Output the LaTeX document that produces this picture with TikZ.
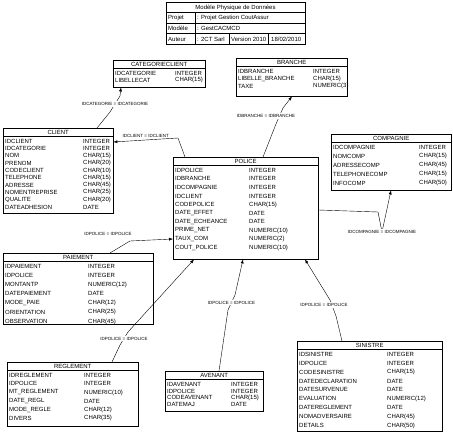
\documentclass[tikz,border=0pt]{standalone}
\usepackage{fontspec}
\setmainfont{Liberation Sans}
\usetikzlibrary{calc,arrows.meta}

\tikzset{
  tbl/.style={draw, thin, inner sep=0pt},
  hdr/.style={font=\fontsize{6}{7}\selectfont, inner sep=0pt},
  fld/.style={font=\fontsize{6}{7}\selectfont, inner sep=0pt, anchor=west},
  lbl/.style={font=\fontsize{4.5}{5}\selectfont, inner sep=1pt, fill=white},
  fk/.style={thin, -{Latex[length=4pt,width=3pt]}}
}
% table: name, x, y, width, height, title, type column, row step, fields
\newcommand{\pdmtable}[9]{%
  \node[tbl, minimum width=#4, minimum height=#5, anchor=north west] (#1) at (#2,#3) {};
  \draw ([yshift=-8.5pt]#1.north west) -- ([yshift=-8.5pt]#1.north east);
  \node[hdr] at ([yshift=-4.3pt]#1.north) {#6};
  \foreach \fname/\ftype [count=\i] in {#9} {
    \node[fld] at ($(#1.north west)+(2,13.3+\i*#8-#8)$) {\fname};
    \node[fld] at ($(#1.north west)+(#7,13.3+\i*#8-#8)$) {\ftype};
  }
}

\begin{document}
\begin{tikzpicture}[x=1pt,y=-1pt]
  \useasboundingbox (0,0) rectangle (453,435);

  % model header
  \node[tbl, minimum width=139, minimum height=42, anchor=north west] (model) at (166,2) {};
  \draw (166,12.5) -- (305,12.5) (166,23) -- (305,23) (166,33.5) -- (305,33.5);
  \draw (195,12.5) -- (195,44) (229,33.5) -- (229,44) (268,33.5) -- (268,44);
  \node[hdr] at (235.5,7.5) {Modèle Physique de Données};
  \node[fld] at (168,18) {Projet};
  \node[fld] at (197,18) {: Projet Gestion CoutAssur};
  \node[fld] at (168,28.5) {Modèle};
  \node[fld] at (197,28.5) {: GestCACMCD};
  \node[fld] at (168,39) {Auteur};
  \node[fld] at (197,39) {: 2CT Sarl};
  \node[fld] at (231,39) {Version 2010};
  \node[fld] at (271,39) {18/02/2010};

  % tables
  \pdmtable{catclient}{113}{60}{92}{27}{CATEGORIECLIENT}{62}{7}{%
    IDCATEGORIE/INTEGER, LIBELLECAT/CHAR(15)}
  \pdmtable{branche}{236}{58}{111}{38}{BRANCHE}{77}{7.5}{%
    IDBRANCHE/INTEGER, LIBELLE\_BRANCHE/CHAR(15), TAXE/NUMERIC(3)}
  \pdmtable{client}{3}{128}{110}{85}{CLIENT}{80}{7.3}{%
    IDCLIENT/INTEGER, IDCATEGORIE/INTEGER, NOM/CHAR(15), PRENOM/CHAR(20),
    CODECLIENT/CHAR(10), TELEPHONE/CHAR(15), ADRESSE/CHAR(45),
    NOMENTREPRISE/CHAR(25), QUALITE/CHAR(20), DATEADHESION/DATE}
  \pdmtable{police}{173}{157}{145}{102}{POLICE}{76}{8.6}{%
    IDPOLICE/INTEGER, IDBRANCHE/INTEGER, IDCOMPAGNIE/INTEGER, IDCLIENT/INTEGER,
    CODEPOLICE/CHAR(15), DATE\_EFFET/DATE, DATE\_ECHEANCE/DATE,
    PRIME\_NET/NUMERIC(10), TAUX\_COM/NUMERIC(2), COUT\_POLICE/NUMERIC(10)}
  \pdmtable{compagnie}{331}{134}{120}{56}{COMPAGNIE}{88}{9}{%
    IDCOMPAGNIE/INTEGER, NOMCOMP/CHAR(15), ADRESSECOMP/CHAR(45),
    TELEPHONECOMP/CHAR(15), INFOCOMP/CHAR(50)}
  \pdmtable{paiement}{3}{253}{150}{71}{PAIEMENT}{85}{9.2}{%
    IDPAIEMENT/INTEGER, IDPOLICE/INTEGER, MONTANTP/NUMERIC(12),
    DATEPAIEMENT/DATE, MODE\_PAIE/CHAR(12), ORIENTATION/CHAR(25),
    OBSERVATION/CHAR(45)}
  \pdmtable{reglement}{7}{362}{131}{64}{REGLEMENT}{77}{8.6}{%
    IDREGLEMENT/INTEGER, IDPOLICE/INTEGER, MT\_REGLEMENT/NUMERIC(10),
    DATE\_REGL/DATE, MODE\_REGLE/CHAR(12), DIVERS/CHAR(35)}
  \pdmtable{avenant}{165}{371}{98}{40}{AVENANT}{66}{6.7}{%
    IDAVENANT/INTEGER, IDPOLICE/INTEGER, CODEAVENANT/CHAR(15), DATEMAJ/DATE}
  \pdmtable{sinistre}{297}{341}{145}{90}{SINISTRE}{90}{8.9}{%
    IDSINISTRE/INTEGER, IDPOLICE/INTEGER, CODESINISTRE/CHAR(15),
    DATEDECLARATION/DATE, DATESURVENUE/DATE, EVALUATION/NUMERIC(12),
    DATEREGLEMENT/DATE, NOMADVERSAIRE/CHAR(45), DETAILS/CHAR(50)}

  % references
  \draw[fk] ([xshift=94pt]client.north west) -- (110,112)
    -- node[lbl] {IDCATEGORIE = IDCATEGORIE} (120,96) -- ([xshift=8pt]catclient.south west);
  \draw[fk] ([xshift=12pt]police.north west) -- (178,138)
    -- node[lbl, above=1pt, fill=none] {IDCLIENT = IDCLIENT} ([yshift=-14pt]client.north east);
  \draw[fk] ([xshift=90pt]police.north west) -- (276,124) -- (283,108)
    -- ([xshift=56pt]branche.south west);
  \node[lbl] at (266,116) {IDBRANCHE = IDBRANCHE};
  \draw[fk] ([yshift=-53pt]police.north east) -- (378,212) -- (382,232)
    node[lbl] {IDCOMPAGNIE = IDCOMPAGNIE} -- ([xshift=60pt]compagnie.south west);
  \draw[fk] ([xshift=107pt]paiement.north west) -- (130,241) -- ([yshift=-82pt]police.north west);
  \node[lbl, fill=none] at (108,234) {IDPOLICE = IDPOLICE};
  \draw[fk] ([xshift=105pt]reglement.north west) -- (120,345)
    -- node[lbl] {IDPOLICE = IDPOLICE} (128,332) -- ([xshift=21pt]police.south west);
  \draw[fk] ([xshift=54pt]avenant.north west) -- (228,310)
    -- node[lbl] {IDPOLICE = IDPOLICE} (235,295) -- ([xshift=70pt]police.south west);
  \draw[fk] ([xshift=45pt]sinistre.north west) -- (336,316) -- (330,300)
    -- ([xshift=132pt]police.south west);
  \node[lbl] at (324,305) {IDPOLICE = IDPOLICE};
\end{tikzpicture}
\end{document}
